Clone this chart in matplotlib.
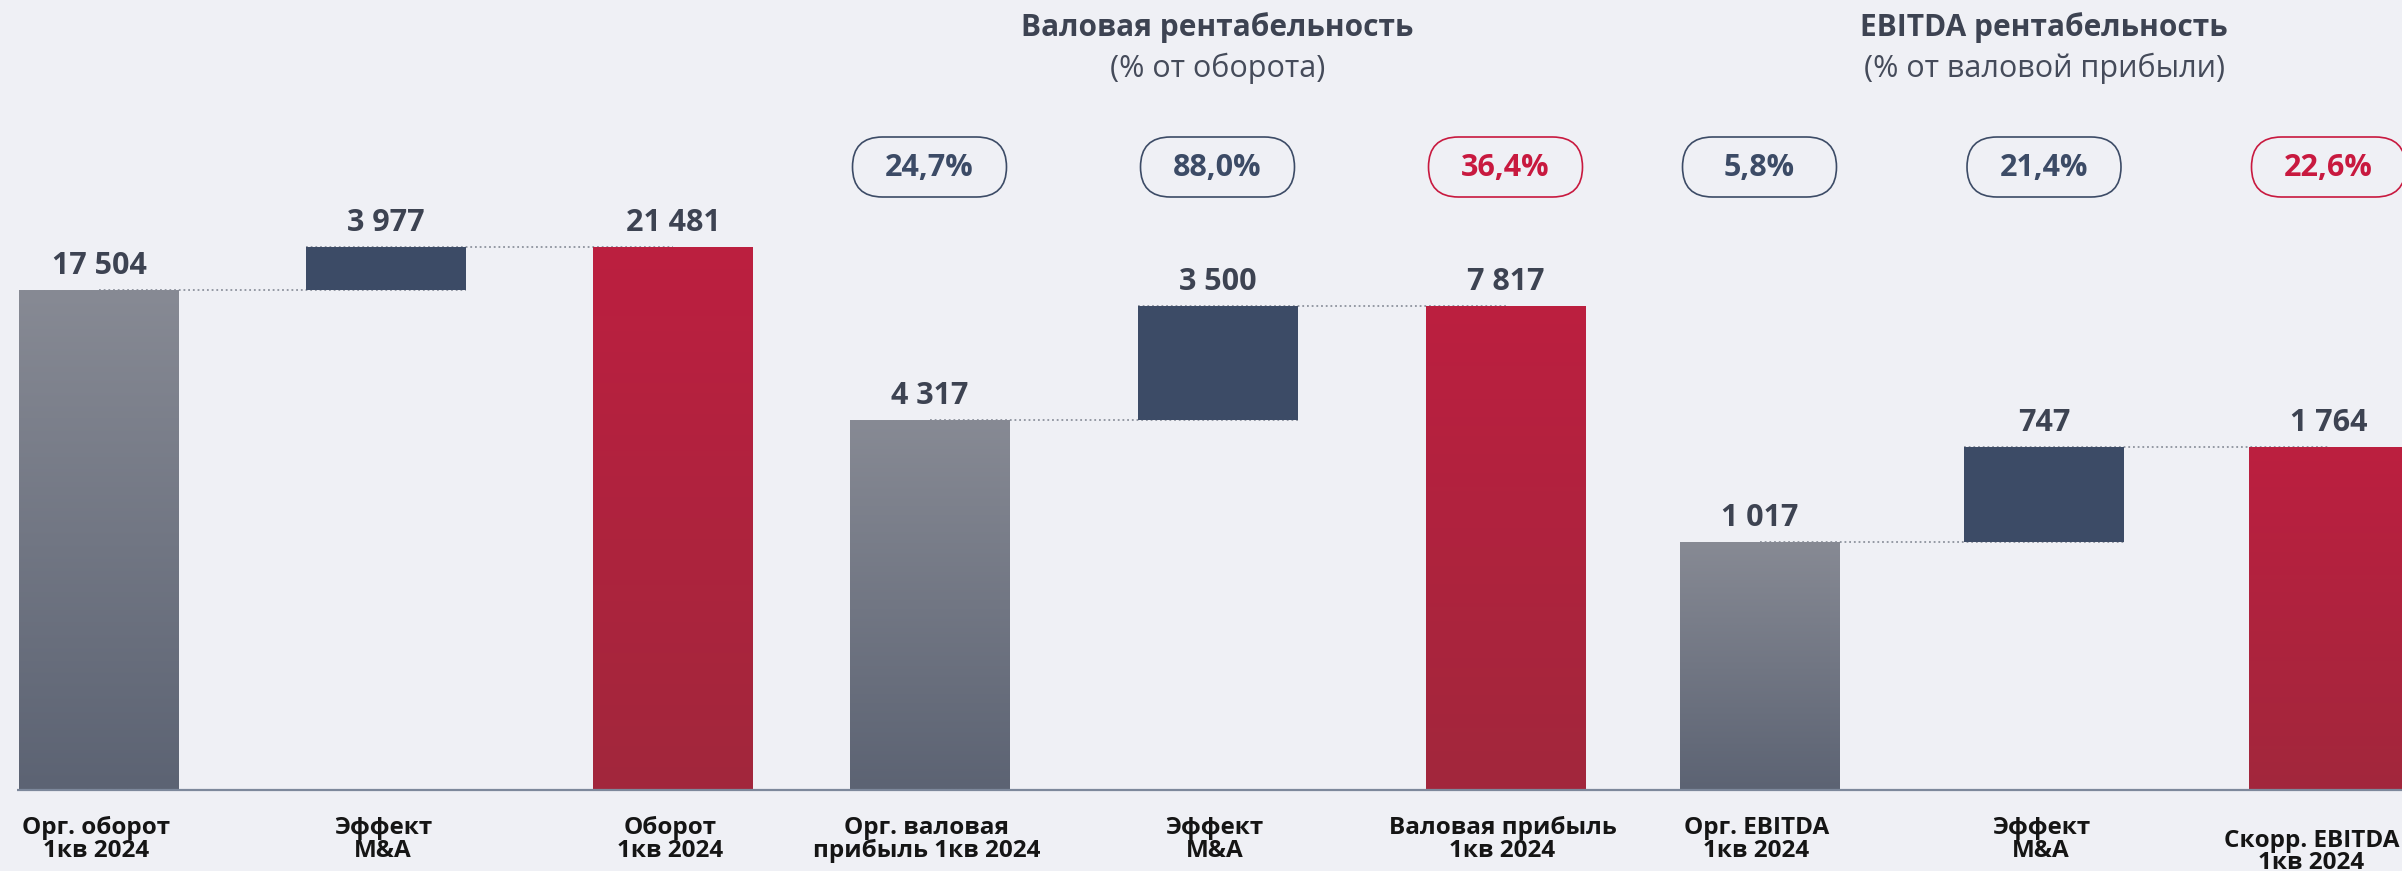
import numpy as np
import matplotlib
matplotlib.use("Agg")
import matplotlib.pyplot as plt
from matplotlib.colors import LinearSegmentedColormap
from matplotlib.patches import FancyBboxPatch

plt.rcParams['font.family'] = ['Open Sans', 'DejaVu Sans']

# ---------------- data ----------------
categories = [
    "Орг. оборот\n1кв 2024", "Эффект\nM&A", "Оборот\n1кв 2024",
    "Орг. валовая\nприбыль 1кв 2024", "Эффект\nM&A", "Валовая прибыль\n1кв 2024",
    "Орг. EBITDA\n1кв 2024", "Эффект\nM&A", "Скорр. EBITDA\n1кв 2024",
]
start_values = [17504, 4317, 1017]     # organic values
ma_effects = [3977, 3500, 747]         # M&A effect
totals = [21481, 7817, 1764]           # reported totals
gross_margin_pct = [24.7, 88.0, 36.4]
ebitda_margin_pct = [5.8, 21.4, 22.6]
header_titles = ["Валовая рентабельность", "EBITDA рентабельность"]
header_subtitles = ["(% от оборота)", "(% от валовой прибыли)"]

# ---------------- layout / style ----------------
W, H = 2402, 871
BG = "#eff0f5"
NAVY = "#3c4b66"
RED = "#c8193f"
TXT = "#3d4352"
group_x0 = [99, 929.5, 1759.5]
group_step = [287, 288, 284.5]
bar_w = 160
base_px = 789
# broken value axis per group: value at baseline and at figure top
y_floor = [-28650, -7010, -925]
y_ceil = [44330, 17210, 5280]

gray_cmap = LinearSegmentedColormap.from_list("g", ["#5c6373", "#878a94"])
red_cmap = LinearSegmentedColormap.from_list("r", ["#a2273c", "#bc1f40"])
grad = np.linspace(0, 1, 256).reshape(-1, 1)

fig = plt.figure(figsize=(W / 100, H / 100), dpi=100, facecolor=BG)

def fmt(v):
    return f"{v:,}".replace(",", " ")

def gradient_bar(ax, patch, cmap):
    x0, y0 = patch.get_xy()
    w, h = patch.get_width(), patch.get_height()
    im = ax.imshow(grad, extent=[x0, x0 + w, y0, y0 + h], origin="lower",
                   aspect="auto", cmap=cmap, zorder=3, interpolation="bilinear")
    im.set_clip_path(patch)
    patch.set_alpha(0)

ax_bottom = (H - base_px) / H
ax_height = base_px / H
for g in range(3):
    ax = fig.add_axes([0, ax_bottom, 1, ax_height])
    ax.set_facecolor("none")
    xs = [group_x0[g] + i * group_step[g] for i in range(3)]
    fl = y_floor[g]
    s, d, t = start_values[g], ma_effects[g], totals[g]
    b1 = ax.bar(xs[0], s - fl, bottom=fl, width=bar_w, color="#7f838d", zorder=3)[0]
    ax.bar(xs[1], d, bottom=s, width=bar_w, color=NAVY, zorder=3)
    b3 = ax.bar(xs[2], t - fl, bottom=fl, width=bar_w, color=RED, zorder=3)[0]
    gradient_bar(ax, b1, gray_cmap)
    gradient_bar(ax, b3, red_cmap)
    # connectors
    ax.plot([xs[0], xs[1] + bar_w / 2], [s, s], color="#8d929d", lw=1.3,
            ls=(0, (1, 1.6)), zorder=2)
    ax.plot([xs[1] - bar_w / 2, xs[2]], [t, t], color="#8d929d", lw=1.3,
            ls=(0, (1, 1.6)), zorder=2)
    # value labels
    for x, top, val in [(xs[0], s, s), (xs[1], s + d, d), (xs[2], t, t)]:
        ax.annotate(fmt(val), (x, top), xytext=(0, 11.5), textcoords="offset points",
                    ha="center", va="baseline", fontsize=22, fontweight="bold",
                    color=TXT, zorder=5)
    ax.set_xlim(0, W)
    ax.set_ylim(fl, y_ceil[g])
    ax.axis("off")

# overlay in pixel coordinates
ov = fig.add_axes([0, 0, 1, 1])
ov.set_xlim(0, W)
ov.set_ylim(H, 0)
ov.axis("off")
ov.set_facecolor("none")

ov.plot([17, W], [base_px + 0.5, base_px + 0.5], color="#7d889b", lw=1.6,
        solid_capstyle="butt")

centers = [group_x0[g] + i * group_step[g] for g in range(3) for i in range(3)]
for i, (cx, lab) in enumerate(zip(centers, categories)):
    if i == 8:
        ov.text(W - 3, 852, lab, ha="right", va="center", fontsize=17.5,
                fontweight="bold", color="#151515", linespacing=0.9,
                multialignment="center")
    else:
        ov.text(cx - 3, 839.5, lab, ha="center", va="center", fontsize=17.5,
                fontweight="bold", color="#151515", linespacing=0.94)

# headers
for g, (tt, st) in enumerate(zip(header_titles, header_subtitles)):
    cx = group_x0[g + 1] + group_step[g + 1]
    ov.text(cx, 28, tt, ha="center", va="center", fontsize=21.5,
            fontweight="bold", color=TXT)
    ov.text(cx, 68, st, ha="center", va="center", fontsize=22,
            color="#454b5a")

# margin pills
pill_w, pill_h, pill_y = 154, 60, 137
for g, vals in [(1, gross_margin_pct), (2, ebitda_margin_pct)]:
    for i, v in enumerate(vals):
        cx = group_x0[g] + i * group_step[g]
        col = RED if i == 2 else NAVY
        p = FancyBboxPatch((cx - pill_w / 2, pill_y), pill_w, pill_h,
                           boxstyle="round,pad=0,rounding_size=30",
                           fc="none", ec=col, lw=1.2)
        ov.add_patch(p)
        ov.text(cx, pill_y + pill_h / 2 + 1, f"{v:.1f}%".replace(".", ","),
                ha="center", va="center", fontsize=22, fontweight="bold", color=col)

fig.savefig("out.png", dpi=100, facecolor=BG)
